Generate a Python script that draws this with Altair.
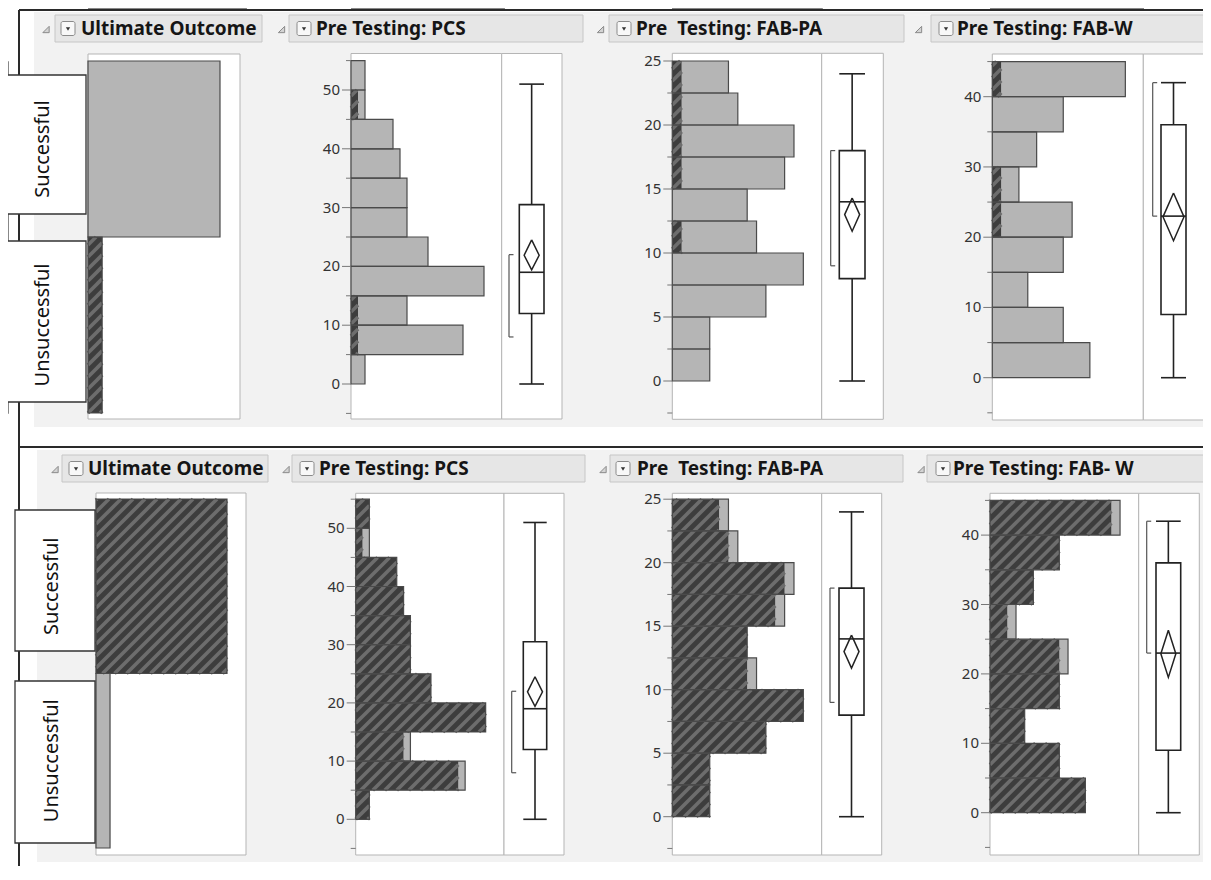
import altair as alt
import numpy as np
import pandas as pd

# ---------------- values ----------------
outcome_levels = ["Unsuccessful", "Successful"]          # bottom -> top
outcome_counts = [9, 84]
row_selected_level = ["Unsuccessful", "Successful"]      # top row, bottom row (hatched rows)

pcs_bin_start = [0, 5, 10, 15, 20, 25, 30, 35, 40, 45, 50]
pcs_counts = [2, 16, 8, 19, 11, 8, 8, 7, 6, 2, 2]
pcs_unsuccessful = [0, 1, 1, 0, 0, 0, 0, 0, 0, 1, 0]

fabpa_bin_start = [0, 2.5, 5, 7.5, 10, 12.5, 15, 17.5, 20, 22.5]
fabpa_counts = [4, 4, 10, 14, 9, 8, 12, 13, 7, 6]
fabpa_unsuccessful = [0, 0, 0, 0, 1, 0, 1, 1, 1, 1]

fabw_bin_start = [0, 5, 10, 15, 20, 25, 30, 35, 40]
fabw_counts = [11, 8, 4, 8, 9, 3, 5, 8, 15]
fabw_unsuccessful = [0, 0, 0, 0, 1, 1, 0, 0, 1]

stat_names = ["min", "q1", "median", "q3", "max", "mean", "mean_lo", "mean_hi", "short_lo", "short_hi"]
pcs_stats = [0, 12, 19, 30.5, 51, 21.9, 19.4, 24.5, 8, 22]
fabpa_stats = [0, 8, 14, 18, 24, 13.0, 11.7, 14.3, 9, 18]
fabw_stats = [0, 9, 23, 36, 42, 22.9, 19.5, 26.3, 23, 42]

pcs_ticks = [0, 10, 20, 30, 40, 50]
pcs_minor = [-5, 5, 15, 25, 35, 45, 55]
fabpa_ticks = [0, 5, 10, 15, 20, 25]
fabpa_minor = [-2.5, 2.5, 7.5, 12.5, 17.5, 22.5]
fabw_ticks = [0, 10, 20, 30, 40]
fabw_minor = [-5, 5, 15, 25, 35, 45]

top_titles = ["Ultimate Outcome", "Pre Testing: PCS", "Pre\u00a0 Testing: FAB-PA", "Pre Testing: FAB-W"]
bottom_titles = ["Ultimate Outcome", "Pre Testing: PCS", "Pre\u00a0 Testing: FAB-PA", "Pre Testing: FAB- W"]

variables = [
    (pcs_bin_start, 5.0, pcs_counts, pcs_unsuccessful, pcs_stats, pcs_ticks, pcs_minor),
    (fabpa_bin_start, 2.5, fabpa_counts, fabpa_unsuccessful, fabpa_stats, fabpa_ticks, fabpa_minor),
    (fabw_bin_start, 5.0, fabw_counts, fabw_unsuccessful, fabw_stats, fabw_ticks, fabw_minor),
]

# ---------------- layout (page pixels) ----------------
W, H = 1195, 858
FONT = "Noto Sans"


def P(v):
    return v - 8


GEO = [
    dict(
        titles=top_titles, header_y=(15, 42),
        tri_x=[46, 281.5, 600.5, 918.5], drop_x=[61, 297, 617, 939], text_x=[81, 316, 636, 957],
        box_x=[(55, 262), (289, 583), (609, 904), (931, 1215)],
        bg=(34, 12, 1215, 427),
        outcome=dict(frame=(88, 54, 240, 419), xpu=132 / 84, ybar=(413, 61),
                     label_boxes=[(7, 241, 86, 402), (7, 75, 86, 214)], label_x=43),
        hists=[
            dict(frame=(351, 53.5, 562, 419), div=501.7, y0=384, ypu=5.88, xpu=7.0, box=(519.3, 544), brk=509, hw=7.5),
            dict(frame=(672.3, 53.3, 883.3, 419.3), div=821.7, y0=381, ypu=12.8, xpu=9.36, box=(839.3, 865), brk=830.7, hw=7.5),
            dict(frame=(992.3, 54, 1204, 420), div=1143.3, y0=377.7, ypu=7.025, xpu=8.87, box=(1161, 1186), brk=1152.7, hw=10.5),
        ],
    ),
    dict(
        titles=bottom_titles, header_y=(455, 482),
        tri_x=[55, 286, 603, 921], drop_x=[69, 300, 616, 936], text_x=[88, 319, 637, 953],
        box_x=[(62, 268), (292, 585), (610, 903), (927, 1215)],
        bg=(37, 450, 1215, 862),
        outcome=dict(frame=(96, 493, 246, 855), xpu=131 / 84, ybar=(848, 499),
                     label_boxes=[(15, 681, 95, 843), (15, 510, 95, 651)], label_x=52),
        hists=[
            dict(frame=(355.7, 493.3, 564, 855), div=504, y0=819.3, ypu=5.82, xpu=6.84, box=(523.3, 546.7), brk=511.7, hw=7.5),
            dict(frame=(672.3, 493.3, 881.7, 855), div=821.7, y0=816.7, ypu=12.7, xpu=9.36, box=(839, 864), brk=830, hw=7.5),
            dict(frame=(990, 493.3, 1199.3, 855), div=1138.7, y0=812.7, ypu=6.94, xpu=8.67, box=(1156, 1180.7), brk=1146.7, hw=7.5),
        ],
    ),
]

GRAY = "#b5b5b5"
DARK = "#3d3d3d"
STRIPE = "#6d6d6d"
OUTLINE = "#4a4a4a"
LINE = "#222222"

layers = []


# ---------------- helpers for pixel decorations ----------------
def pix_rects(rects, **style):
    df = pd.DataFrame(rects, columns=["x", "y", "x2", "y2"]).apply(lambda c: c - 8)
    return alt.Chart(df).mark_rect(**style).encode(
        x=alt.X("x:Q", scale=None), x2="x2:Q", y=alt.Y("y:Q", scale=None), y2="y2:Q")


def pix_rules(segs, **style):
    df = pd.DataFrame(segs, columns=["x", "y", "x2", "y2"]).apply(lambda c: c - 8)
    return alt.Chart(df).mark_rule(**style).encode(
        x=alt.X("x:Q", scale=None), x2="x2:Q", y=alt.Y("y:Q", scale=None), y2="y2:Q")


def pix_points(pts, **style):
    df = pd.DataFrame(pts, columns=["x", "y"]).apply(lambda c: c - 8)
    return alt.Chart(df).mark_point(**style).encode(
        x=alt.X("x:Q", scale=None), y=alt.Y("y:Q", scale=None))


def pix_text(items, **style):
    df = pd.DataFrame(items, columns=["x", "y", "t"])
    df["x"] = df["x"] - 8
    df["y"] = df["y"] - 8
    return alt.Chart(df).mark_text(**style).encode(
        x=alt.X("x:Q", scale=None), y=alt.Y("y:Q", scale=None), text="t:N")


def stripe_segments(rects, xpu, ypu, step=12.0):
    segs = []
    for (xa, xb, ya, yb) in rects:
        Xa, Xb, Ya, Yb = xa * xpu, xb * xpu, ya * ypu, yb * ypu
        c = np.ceil((Xa - Yb) / step) * step
        while c < Xb - Ya:
            xs_ = max(Xa, c + Ya)
            xe = min(Xb, c + Yb)
            if xe > xs_ + 0.3:
                segs.append(dict(x=xs_ / xpu, y=(xs_ - c) / ypu, x2=xe / xpu, y2=(xe - c) / ypu))
            c += step
    return pd.DataFrame(segs, columns=["x", "y", "x2", "y2"])


def bar_layers(df, xs, ys, xpu, ypu):
    """df columns: lo, hi, count, sel. Hatched 0->sel, gray sel->count."""
    out = []
    g = df[df["count"] > df["sel"]]
    if len(g):
        out.append(alt.Chart(g).mark_rect(color=GRAY).encode(
            x=alt.X("sel:Q", scale=xs), x2="count:Q", y=alt.Y("lo:Q", scale=ys), y2="hi:Q"))
    h = df[df["sel"] > 0]
    if len(h):
        out.append(alt.Chart(h).mark_rect(color=DARK).encode(
            x=alt.X("zero:Q", scale=xs), x2="sel:Q", y=alt.Y("lo:Q", scale=ys), y2="hi:Q"))
        segs = stripe_segments(list(zip([0] * len(h), h["sel"], h["lo"], h["hi"])), xpu, ypu)
        out.append(alt.Chart(segs).mark_rule(color=STRIPE, strokeWidth=3.6).encode(
            x=alt.X("x:Q", scale=xs), x2="x2:Q", y=alt.Y("y:Q", scale=ys), y2="y2:Q"))
    out.append(alt.Chart(df).mark_rect(fillOpacity=0, stroke=OUTLINE, strokeWidth=1.2).encode(
        x=alt.X("zero:Q", scale=xs), x2="count:Q", y=alt.Y("lo:Q", scale=ys), y2="hi:Q"))
    return out


def box_layers(stats, g, ys):
    d = dict(zip(stat_names, stats))
    df = pd.DataFrame([d])
    bl, br = g["box"]
    cx = (bl + br) / 2
    hw = g["hw"]
    bx = g["brk"]
    base = alt.Chart(df)
    ln = dict(color=LINE, strokeWidth=1.6)
    out = [
        base.mark_rule(**ln).encode(x=alt.value(P(cx)), y=alt.Y("min:Q", scale=ys), y2="q1:Q"),
        base.mark_rule(**ln).encode(x=alt.value(P(cx)), y=alt.Y("q3:Q", scale=ys), y2="max:Q"),
        base.mark_rect(fillOpacity=0, stroke=LINE, strokeWidth=1.6).encode(
            x=alt.value(P(bl)), x2=alt.value(P(br)), y=alt.Y("q1:Q", scale=ys), y2="q3:Q"),
    ]
    for f in ["min", "max", "median"]:
        out.append(base.mark_rule(**ln).encode(x=alt.value(P(bl)), x2=alt.value(P(br)), y=alt.Y(f"{f}:Q", scale=ys)))
    dia = pd.DataFrame({
        "o": [0, 1, 2, 3, 4],
        "px": [P(cx), P(cx + hw), P(cx), P(cx - hw), P(cx)],
        "v": [d["mean_hi"], d["mean"], d["mean_lo"], d["mean"], d["mean_hi"]],
    })
    out.append(alt.Chart(dia).mark_line(color=LINE, strokeWidth=1.5).encode(
        x=alt.X("px:Q", scale=None), y=alt.Y("v:Q", scale=ys), order="o:Q"))
    br_style = dict(color="#555555", strokeWidth=1.2)
    out.append(base.mark_rule(**br_style).encode(x=alt.value(P(bx)), y=alt.Y("short_lo:Q", scale=ys), y2="short_hi:Q"))
    for f in ["short_lo", "short_hi"]:
        out.append(base.mark_rule(**br_style).encode(x=alt.value(P(bx)), x2=alt.value(P(bx + 4.5)),
                                                      y=alt.Y(f"{f}:Q", scale=ys)))
    return out


def axis_layers(ticks, minor, L, ys):
    t = pd.DataFrame({"v": ticks})
    m = pd.DataFrame({"v": minor})
    return [
        alt.Chart(t).mark_rule(color="#777777", strokeWidth=1).encode(
            x=alt.value(P(L - 9)), x2=alt.value(P(L)), y=alt.Y("v:Q", scale=ys)),
        alt.Chart(m).mark_rule(color="#777777", strokeWidth=1).encode(
            x=alt.value(P(L - 5)), x2=alt.value(P(L)), y=alt.Y("v:Q", scale=ys)),
        alt.Chart(t).mark_text(align="right", baseline="middle", font=FONT, fontSize=15, color="#333333").encode(
            x=alt.value(P(L - 11)), y=alt.Y("v:Q", scale=ys), text=alt.Text("v:Q", format="d")),
    ]


# ---------------- static frame ----------------
for g in GEO:
    layers.append(pix_rects([g["bg"]], color="#f2f2f2"))

layers.append(pix_rules([(19, 10, 19, 870), (19, 10, 1215, 10), (19, 447, 1215, 447)],
                        color="#2a2a2a", strokeWidth=2))

TRI_PATH = "M 1 -1 L 1 1 L -1 1 Z"
for g in GEO:
    y0, y1 = g["header_y"]
    yc = (y0 + y1) / 2
    layers.append(pix_rects([(a, y0, b, y1) for a, b in g["box_x"]], fill="#e6e6e6", stroke="#c6c6c6", strokeWidth=1))
    layers.append(pix_rects([(a, yc - 7, a + 14, yc + 7) for a in g["drop_x"]],
                            fill="#f8f8f8", stroke="#8a8a8a", strokeWidth=1, cornerRadius=2))
    layers.append(pix_points([(a + 7, yc + 0.5) for a in g["drop_x"]], shape="triangle-down", size=18,
                             filled=True, color="#333333", opacity=1))
    layers.append(pix_points([(a, yc + 1) for a in g["tri_x"]], shape=TRI_PATH, size=40, filled=True,
                             fill="#d4d4d4", stroke="#8a8a8a", strokeWidth=1, opacity=1))
    layers.append(pix_text([(x, yc + 0.5, t) for x, t in zip(g["text_x"], g["titles"])],
                           align="left", baseline="middle", font=FONT, fontSize=19, fontWeight="bold",
                           color="#151515"))

# ---------------- panels ----------------
for ri, g in enumerate(GEO):
    # --- Ultimate Outcome ---
    og = g["outcome"]
    L, T, R, B = og["frame"]
    layers.append(pix_rects([og["frame"]], fill="white", stroke="#b5b5b5", strokeWidth=1))
    xs = alt.Scale(domain=[0, (R - L) / og["xpu"]], range=[P(L), P(R)], nice=False, zero=False)
    yb, yt = og["ybar"]
    n = len(outcome_levels)
    ys = alt.Scale(domain=[0, n], range=[P(yb), P(yt)], nice=False, zero=False)
    odf = pd.DataFrame({"level": outcome_levels, "count": outcome_counts})
    odf["lo"] = np.arange(n, dtype=float)
    odf["hi"] = odf["lo"] + 1
    odf["mid"] = odf["lo"] + 0.5
    odf["zero"] = 0.0
    odf["sel"] = np.where(odf["level"] == row_selected_level[ri], odf["count"], 0)
    layers += bar_layers(odf, xs, ys, og["xpu"], (yb - yt) / n)
    layers.append(pix_rects(og["label_boxes"], fill="white", stroke="#333333", strokeWidth=1.3))
    layers.append(alt.Chart(odf).mark_text(angle=270, align="center", baseline="middle", font=FONT,
                                           fontSize=20, color="#111111").encode(
        x=alt.value(P(og["label_x"])), y=alt.Y("mid:Q", scale=ys), text="level:N"))

    # --- continuous distributions ---
    for (bins, bw, counts, unsucc, stats, ticks, minor), hg in zip(variables, g["hists"]):
        L, T, R, B = hg["frame"]
        div = hg["div"]
        layers.append(pix_rects([(L, T, div, B), (div, T, R, B)], fill="white", stroke="#b5b5b5", strokeWidth=1))
        xs = alt.Scale(domain=[0, (div - L) / hg["xpu"]], range=[P(L), P(div)], nice=False, zero=False)
        ys = alt.Scale(domain=[(hg["y0"] - B) / hg["ypu"], (hg["y0"] - T) / hg["ypu"]],
                       range=[P(B), P(T)], nice=False, zero=False)
        df = pd.DataFrame({"lo": bins, "count": counts, "unsucc": unsucc})
        df["hi"] = df["lo"] + bw
        df["zero"] = 0.0
        df["sel"] = df["unsucc"] if ri == 0 else df["count"] - df["unsucc"]
        layers += bar_layers(df, xs, ys, hg["xpu"], hg["ypu"])
        layers += box_layers(stats, hg, ys)
        layers += axis_layers(ticks, minor, L, ys)

chart = alt.layer(*layers).resolve_scale(x="independent", y="independent").properties(
    width=W, height=H, padding=0, autosize="none", background="white"
).configure(aria=False).configure_view(stroke=None)

chart.save("out.html", embed_options={"renderer": "svg", "actions": False})
